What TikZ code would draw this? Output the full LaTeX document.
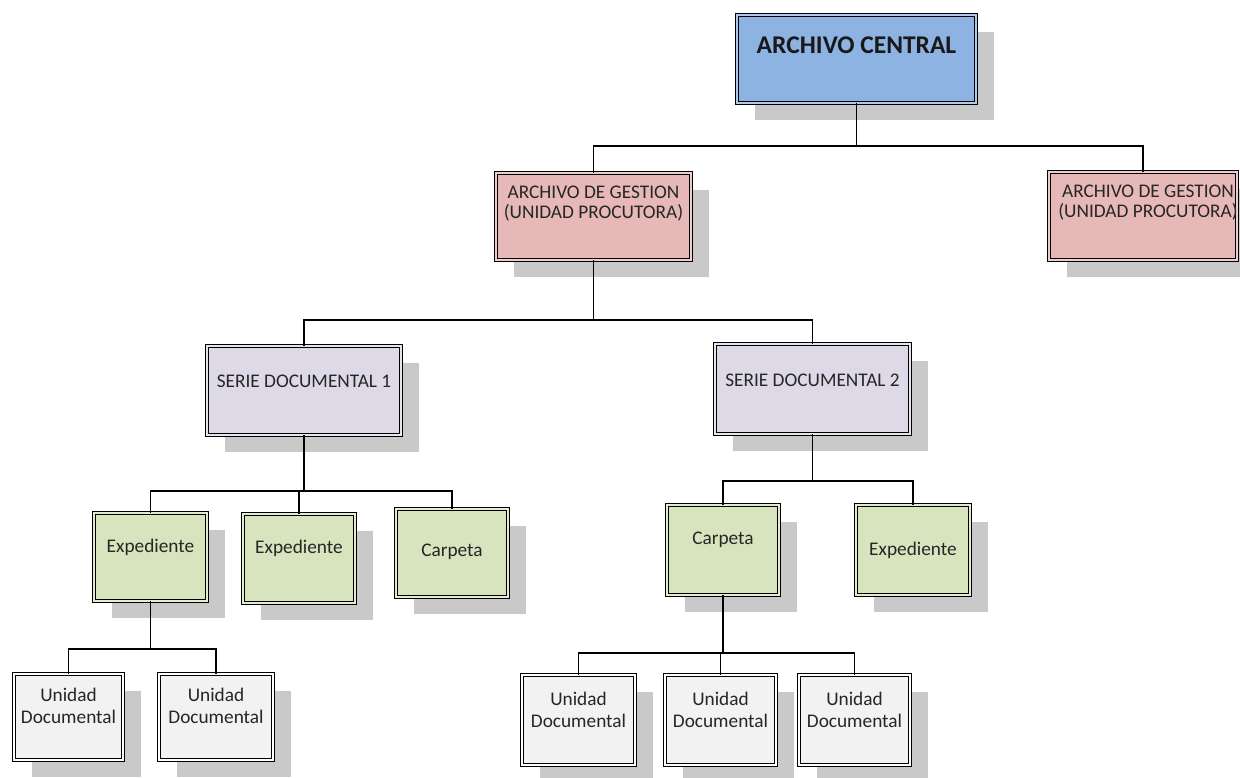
\documentclass[tikz,border=0pt]{standalone}
\usepackage{fontspec}
\setmainfont{Carlito}
\usetikzlibrary{shadows}
\definecolor{centralblue}{HTML}{8DB3E2}
\definecolor{gestionpink}{HTML}{E6B9B8}
\definecolor{serielilac}{HTML}{DED9E6}
\definecolor{legajogreen}{HTML}{D7E4BD}
\definecolor{unidadgray}{HTML}{F2F2F2}
\definecolor{shadowgray}{HTML}{C9C9C9}

\begin{document}
\begin{tikzpicture}[x=1pt,y=-1pt,line width=1.8pt]
    \tikzstyle{box}=[draw=black, line width=1.2pt, double distance=1.8pt, inner sep=0pt, outer sep=0pt,
        drop shadow={shadow xshift=18pt, shadow yshift=-17pt, fill=shadowgray, opacity=1}]
    \tikzstyle{central}=[box, fill=centralblue, double=centralblue!70!white]
    \tikzstyle{gestion}=[box, fill=gestionpink, double=gestionpink!70!white]
    \tikzstyle{serie}=[box, fill=serielilac, double=serielilac!70!white]
    \tikzstyle{legajo}=[box, fill=legajogreen, double=legajogreen!70!white]
    \tikzstyle{unidad}=[box, fill=unidadgray, double=white]
    \tikzstyle{title text}=[font=\fontsize{25.5}{28}\selectfont\bfseries, text=black!90]
    \tikzstyle{box text}=[font=\fontsize{19.3}{20}\selectfont, text=black!85, align=center]
    \tikzstyle{unit text}=[font=\fontsize{19.3}{22}\selectfont, text=black!85, align=center]

    \useasboundingbox (0,0) rectangle (1240,778);

    % boxes
    \node[central, minimum width=239pt, minimum height=88pt] (AC) at (856.5,59) {};
    \node[gestion, minimum width=195pt, minimum height=87pt] (AG1) at (593.5,216.5) {};
    \node[gestion, minimum width=188pt, minimum height=88pt] (AG2) at (1143,216) {};
    \node[serie, minimum width=194pt, minimum height=89pt] (SD1) at (304,390.5) {};
    \node[serie, minimum width=195pt, minimum height=90pt] (SD2) at (812.5,389) {};
    \node[legajo, minimum width=113pt, minimum height=88pt] (EX1) at (150.5,557) {};
    \node[legajo, minimum width=112pt, minimum height=89pt] (EX2) at (299,558.5) {};
    \node[legajo, minimum width=112pt, minimum height=88pt] (CA1) at (452,553) {};
    \node[legajo, minimum width=112pt, minimum height=90pt] (CA2) at (723,550) {};
    \node[legajo, minimum width=114pt, minimum height=90pt] (EX3) at (913,550) {};
    \node[unidad, minimum width=109pt, minimum height=86pt] (UD1) at (68.5,717) {};
    \node[unidad, minimum width=114pt, minimum height=86pt] (UD2) at (216,717) {};
    \node[unidad, minimum width=113pt, minimum height=90pt] (UD3) at (578.5,720) {};
    \node[unidad, minimum width=111pt, minimum height=90pt] (UD4) at (720.5,720) {};
    \node[unidad, minimum width=111pt, minimum height=90pt] (UD5) at (854.5,720) {};

    % texts
    \node[title text] (ACt) at ([yshift=-30pt]AC.north) {ARCHIVO CENTRAL};
    \node[box text] (AG1t) at ([yshift=-31pt]AG1.north) {ARCHIVO DE GESTION\\(UNIDAD PROCUTORA)};
    \node[box text] (AG2t) at ([xshift=5pt,yshift=-31pt]AG2.north) {ARCHIVO DE GESTION\\(UNIDAD PROCUTORA)};
    \node[box text] (SD1t) at ([yshift=-35pt]SD1.north) {SERIE DOCUMENTAL 1};
    \node[box text] (SD2t) at ([yshift=-36pt]SD2.north) {SERIE DOCUMENTAL 2};
    \node[box text] (EX1t) at ([yshift=-34pt]EX1.north) {Expediente};
    \node[box text] (EX2t) at ([yshift=-34pt]EX2.north) {Expediente};
    \node[box text] (CA1t) at ([yshift=-43pt]CA1.north) {Carpeta};
    \node[box text] (CA2t) at ([yshift=-35pt]CA2.north) {Carpeta};
    \node[box text] (EX3t) at ([yshift=-45pt]EX3.north) {Expediente};
    \node[unit text] (UD1t) at ([yshift=-32pt]UD1.north) {Unidad\\Documental};
    \node[unit text] (UD2t) at ([yshift=-32pt]UD2.north) {Unidad\\Documental};
    \node[unit text] (UD3t) at ([yshift=-35pt]UD3.north) {Unidad\\Documental};
    \node[unit text] (UD4t) at ([yshift=-35pt]UD4.north) {Unidad\\Documental};
    \node[unit text] (UD5t) at ([yshift=-35pt]UD5.north) {Unidad\\Documental};

    % connectors
    \draw (AC.south) -- ++(0,43) coordinate (busAC);
    \foreach \c in {AG1,AG2} \draw (busAC) -| (\c.north);
    \draw (AG1.south) -- ++(0,60) coordinate (busAG);
    \foreach \c in {SD1,SD2} \draw (busAG) -| (\c.north);
    \draw (SD1.south) -- ++(0,56) coordinate (busSD1);
    \foreach \c in {EX1,EX2,CA1} \draw (busSD1) -| (\c.north);
    \draw (SD2.south) -- ++(0,47) coordinate (busSD2);
    \foreach \c in {CA2,EX3} \draw (busSD2) -| (\c.north);
    \draw (EX1.south) -- ++(0,48) coordinate (busEX1);
    \foreach \c in {UD1,UD2} \draw (busEX1) -| (\c.north);
    \draw (CA2.south) -- ++(0,58) coordinate (busCA2);
    \foreach \c in {UD3,UD4,UD5} \draw (busCA2) -| (\c.north);
\end{tikzpicture}
\end{document}
